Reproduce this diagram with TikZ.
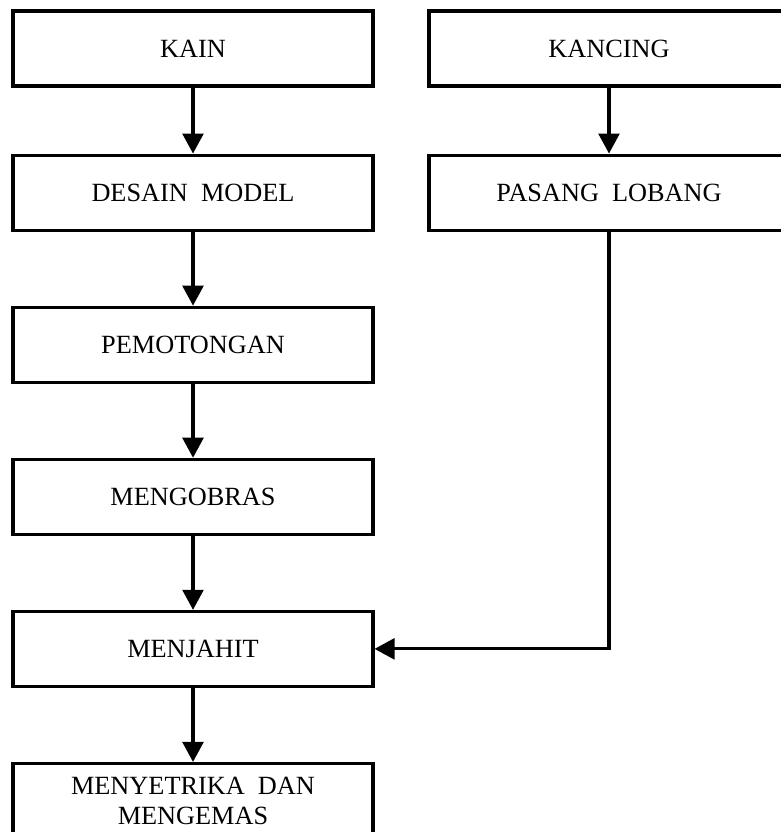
\documentclass[tikz,border=0pt]{standalone}
\usepackage{fontspec}
\setmainfont{Liberation Serif}
\usepackage{tikz}
\usetikzlibrary{arrows.meta,positioning}

\tikzset{
  procbox/.style={draw, line width=2.2pt, minimum width=9cm, minimum height=1.875cm,
    align=center, font=\fontsize{18.7}{21.3}\selectfont},
  flow/.style={line width=2.2pt, -{Triangle[length=0.5cm,width=0.52cm]}}
}

\begin{document}
\begin{tikzpicture}
\useasboundingbox (0,0) rectangle (19.525,-20.8);
% left column: main process
\node[procbox] (kain) at (4.825,-1.2125) {KAIN};
\node[procbox, below=1.65cm of kain] (desain) {DESAIN\ \ MODEL};
\node[procbox, below=1.85cm of desain] (potong) {PEMOTONGAN};
\node[procbox, below=1.85cm of potong] (obras) {MENGOBRAS};
\node[procbox, below=1.85cm of obras] (jahit) {MENJAHIT};
\node[procbox, below=1.85cm of jahit] (setrika) {MENYETRIKA\ \ DAN\\MENGEMAS};
% right column: buttons
\node[procbox] (kancing) at (15.225,-1.2125) {KANCING};
\node[procbox, below=1.65cm of kancing] (lobang) {PASANG\ \ LOBANG};
% arrows
\draw[flow] (kain) -- (desain);
\draw[flow] (desain) -- (potong);
\draw[flow] (potong) -- (obras);
\draw[flow] (obras) -- (jahit);
\draw[flow] (jahit) -- (setrika);
\draw[flow] (kancing) -- (lobang);
\draw[flow] (lobang.south) |- (jahit.east);
\end{tikzpicture}
\end{document}
